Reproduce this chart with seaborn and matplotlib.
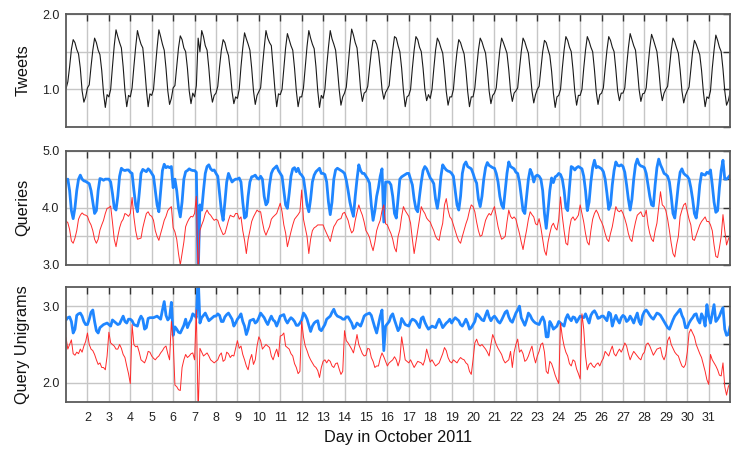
import numpy as np
import pandas as pd
import matplotlib
matplotlib.use("Agg")
import matplotlib.pyplot as plt
import seaborn as sns
from matplotlib.ticker import FixedLocator, MultipleLocator, FuncFormatter

# Values sampled every two hours, one row per day (October 1 .. 31),
# followed by the last value at the right edge of the chart.
tweets_rows = [
    [1.01, 1.10, 1.30, 1.53, 1.66, 1.62, 1.53, 1.47, 1.28, 0.98, 0.83, 0.90],
    [1.02, 1.06, 1.30, 1.52, 1.68, 1.62, 1.52, 1.46, 1.25, 0.95, 0.76, 0.93],
    [0.90, 1.00, 1.30, 1.58, 1.79, 1.70, 1.62, 1.55, 1.30, 0.98, 0.77, 0.92],
    [0.90, 1.02, 1.30, 1.56, 1.78, 1.68, 1.60, 1.55, 1.30, 1.00, 0.77, 0.94],
    [0.92, 1.00, 1.28, 1.55, 1.79, 1.70, 1.60, 1.52, 1.28, 0.98, 0.80, 0.88],
    [1.02, 1.05, 1.30, 1.55, 1.71, 1.66, 1.55, 1.50, 1.28, 0.98, 0.81, 0.95],
    [0.90, 1.05, 1.68, 1.50, 1.78, 1.70, 1.58, 1.52, 1.28, 0.98, 0.83, 0.92],
    [0.95, 1.04, 1.30, 1.52, 1.66, 1.62, 1.52, 1.45, 1.25, 0.97, 0.81, 0.90],
    [0.88, 1.00, 1.30, 1.55, 1.75, 1.67, 1.60, 1.52, 1.28, 0.98, 0.80, 0.92],
    [0.97, 1.02, 1.30, 1.55, 1.78, 1.68, 1.62, 1.58, 1.30, 1.00, 0.77, 0.94],
    [0.93, 1.00, 1.28, 1.55, 1.74, 1.66, 1.58, 1.52, 1.28, 0.98, 0.77, 0.90],
    [0.90, 1.02, 1.30, 1.57, 1.78, 1.68, 1.60, 1.54, 1.30, 0.98, 0.76, 0.92],
    [0.88, 1.00, 1.30, 1.56, 1.78, 1.67, 1.60, 1.52, 1.28, 1.00, 0.79, 0.90],
    [0.95, 1.03, 1.30, 1.58, 1.80, 1.72, 1.62, 1.55, 1.30, 1.00, 0.84, 0.95],
    [0.97, 1.04, 1.28, 1.50, 1.65, 1.65, 1.60, 1.50, 1.28, 1.00, 0.87, 0.96],
    [1.00, 1.05, 1.30, 1.52, 1.70, 1.68, 1.58, 1.50, 1.28, 0.98, 0.77, 0.90],
    [0.92, 1.00, 1.28, 1.52, 1.70, 1.66, 1.56, 1.50, 1.28, 1.00, 0.85, 0.93],
    [0.88, 1.00, 1.27, 1.52, 1.68, 1.63, 1.55, 1.48, 1.25, 0.97, 0.79, 0.90],
    [0.90, 1.00, 1.27, 1.50, 1.66, 1.62, 1.54, 1.47, 1.25, 0.97, 0.77, 0.90],
    [0.90, 1.02, 1.28, 1.52, 1.68, 1.63, 1.55, 1.48, 1.26, 0.98, 0.81, 0.92],
    [0.95, 1.02, 1.28, 1.52, 1.68, 1.62, 1.55, 1.48, 1.26, 0.98, 0.84, 0.95],
    [0.98, 1.02, 1.27, 1.50, 1.68, 1.63, 1.55, 1.48, 1.25, 0.98, 0.82, 0.93],
    [1.00, 1.04, 1.27, 1.50, 1.65, 1.62, 1.53, 1.45, 1.24, 0.95, 0.76, 0.90],
    [0.92, 1.00, 1.28, 1.52, 1.70, 1.65, 1.56, 1.50, 1.26, 0.97, 0.79, 0.92],
    [0.92, 1.00, 1.28, 1.52, 1.70, 1.64, 1.56, 1.50, 1.26, 0.97, 0.80, 0.93],
    [0.95, 1.02, 1.28, 1.52, 1.70, 1.65, 1.56, 1.50, 1.26, 0.98, 0.85, 0.95],
    [0.95, 1.02, 1.30, 1.55, 1.74, 1.66, 1.58, 1.52, 1.28, 1.00, 0.84, 0.94],
    [0.95, 1.02, 1.30, 1.55, 1.73, 1.66, 1.58, 1.50, 1.28, 1.00, 0.85, 0.95],
    [1.00, 1.04, 1.28, 1.52, 1.68, 1.63, 1.55, 1.48, 1.26, 0.98, 0.82, 0.92],
    [0.98, 1.03, 1.27, 1.50, 1.65, 1.60, 1.53, 1.46, 1.25, 0.97, 0.77, 0.90],
    [0.88, 0.98, 1.28, 1.52, 1.72, 1.65, 1.56, 1.50, 1.27, 0.98, 0.79, 0.85],
]
tweets_end = 0.96

queries_blue_rows = [
    [4.48, 4.50, 4.30, 3.95, 3.81, 4.00, 4.30, 4.50, 4.57, 4.50, 4.47, 4.46],
    [4.44, 4.42, 4.30, 4.10, 3.90, 3.95, 4.30, 4.51, 4.50, 4.48, 4.50, 4.50],
    [4.50, 4.45, 4.25, 4.00, 3.96, 4.20, 4.55, 4.69, 4.66, 4.65, 4.66, 4.66],
    [4.62, 4.60, 4.31, 4.05, 3.93, 4.25, 4.60, 4.67, 4.65, 4.63, 4.68, 4.65],
    [4.60, 4.55, 4.30, 4.05, 3.93, 4.30, 4.65, 4.76, 4.70, 4.72, 4.70, 4.72],
    [4.35, 4.50, 4.30, 4.00, 3.84, 4.10, 4.50, 4.63, 4.65, 4.68, 4.66, 4.65],
    [4.65, 4.62, 2.80, 4.05, 3.96, 4.30, 4.60, 4.72, 4.75, 4.68, 4.65, 4.66],
    [4.60, 4.55, 4.25, 3.95, 3.78, 4.10, 4.45, 4.60, 4.52, 4.45, 4.48, 4.50],
    [4.50, 4.52, 4.45, 4.10, 3.82, 3.85, 4.20, 4.45, 4.54, 4.55, 4.57, 4.52],
    [4.50, 4.55, 4.50, 4.20, 4.05, 4.10, 4.40, 4.60, 4.67, 4.70, 4.73, 4.65],
    [4.60, 4.55, 4.30, 4.05, 3.99, 4.25, 4.55, 4.68, 4.70, 4.63, 4.69, 4.60],
    [4.57, 4.52, 4.30, 4.05, 3.93, 4.15, 4.45, 4.57, 4.63, 4.66, 4.69, 4.60],
    [4.60, 4.58, 4.45, 4.10, 3.88, 4.10, 4.50, 4.66, 4.69, 4.67, 4.65, 4.63],
    [4.60, 4.48, 4.30, 4.10, 3.96, 3.85, 4.20, 4.50, 4.75, 4.65, 4.60, 4.60],
    [4.55, 4.50, 4.43, 4.05, 3.78, 3.95, 4.20, 4.35, 4.55, 4.68, 3.75, 4.45],
    [4.45, 4.45, 4.40, 4.20, 3.90, 3.82, 4.15, 4.50, 4.54, 4.56, 4.58, 4.60],
    [4.60, 4.50, 4.40, 4.15, 3.98, 3.93, 4.20, 4.45, 4.65, 4.72, 4.68, 4.60],
    [4.52, 4.48, 4.42, 4.15, 3.99, 4.20, 4.55, 4.75, 4.70, 4.66, 4.64, 4.63],
    [4.60, 4.55, 4.30, 4.05, 3.96, 4.20, 4.60, 4.75, 4.80, 4.72, 4.70, 4.68],
    [4.60, 4.50, 4.43, 4.15, 4.02, 4.20, 4.50, 4.70, 4.79, 4.74, 4.72, 4.70],
    [4.69, 4.60, 4.45, 4.20, 4.05, 3.99, 4.30, 4.60, 4.80, 4.72, 4.70, 4.68],
    [4.62, 4.60, 4.45, 4.20, 3.95, 3.90, 4.20, 4.50, 4.67, 4.60, 4.45, 4.55],
    [4.57, 4.55, 4.50, 4.30, 3.90, 3.64, 3.95, 4.30, 4.52, 4.44, 4.54, 4.56],
    [4.60, 4.58, 4.50, 4.30, 4.00, 3.95, 4.35, 4.72, 4.70, 4.66, 4.70, 4.72],
    [4.70, 4.68, 4.55, 4.30, 3.95, 4.10, 4.45, 4.70, 4.83, 4.70, 4.72, 4.70],
    [4.68, 4.63, 4.50, 4.25, 3.97, 4.05, 4.40, 4.65, 4.80, 4.74, 4.73, 4.75],
    [4.72, 4.62, 4.40, 4.15, 3.96, 4.15, 4.50, 4.75, 4.85, 4.76, 4.73, 4.72],
    [4.70, 4.60, 4.40, 4.20, 4.05, 4.03, 4.40, 4.70, 4.85, 4.75, 4.68, 4.60],
    [4.58, 4.55, 4.45, 4.20, 3.90, 3.82, 4.10, 4.40, 4.62, 4.68, 4.60, 4.57],
    [4.55, 4.50, 4.35, 4.15, 3.90, 3.82, 4.05, 4.40, 4.60, 4.58, 4.57, 4.62],
    [4.60, 4.66, 4.40, 4.10, 3.92, 3.95, 4.35, 4.65, 4.83, 4.50, 4.50, 4.53],
]
queries_blue_end = 4.57

queries_red_rows = [
    [3.77, 3.74, 3.62, 3.42, 3.38, 3.47, 3.60, 3.80, 3.87, 3.91, 3.88, 3.87],
    [3.85, 3.76, 3.70, 3.60, 3.45, 3.38, 3.45, 3.61, 3.70, 3.78, 3.90, 3.99],
    [4.00, 4.03, 3.75, 3.45, 3.32, 3.50, 3.65, 3.75, 3.80, 3.90, 3.88, 3.85],
    [3.90, 4.18, 3.84, 3.60, 3.45, 3.46, 3.47, 3.65, 3.78, 3.90, 3.93, 3.87],
    [3.85, 3.78, 3.60, 3.50, 3.43, 3.55, 3.66, 3.78, 3.85, 3.95, 3.99, 4.02],
    [3.65, 3.58, 3.45, 3.20, 3.00, 3.20, 3.40, 3.67, 3.75, 3.81, 3.85, 3.84],
    [3.90, 4.20, 2.80, 3.60, 3.70, 3.78, 3.90, 3.96, 3.90, 3.87, 3.82, 3.78],
    [3.80, 3.78, 3.68, 3.60, 3.53, 3.55, 3.66, 3.78, 3.87, 3.85, 3.84, 3.90],
    [3.90, 3.80, 3.84, 3.60, 3.43, 3.20, 3.45, 3.60, 3.76, 3.84, 3.90, 3.96],
    [3.93, 3.93, 3.75, 3.60, 3.52, 3.60, 3.67, 3.80, 3.84, 3.87, 3.90, 3.99],
    [4.08, 3.93, 3.70, 3.56, 3.32, 3.45, 3.58, 3.70, 3.80, 3.84, 3.88, 3.93],
    [4.31, 3.80, 3.65, 3.50, 3.20, 3.45, 3.60, 3.65, 3.67, 3.70, 3.70, 3.70],
    [3.70, 3.62, 3.55, 3.48, 3.41, 3.55, 3.67, 3.72, 3.78, 3.80, 3.81, 3.90],
    [3.92, 3.85, 3.78, 3.65, 3.56, 3.60, 3.78, 3.92, 4.05, 3.95, 3.87, 3.75],
    [3.60, 3.55, 3.48, 3.35, 3.25, 3.40, 3.60, 3.70, 3.78, 3.95, 4.05, 3.72],
    [3.70, 3.62, 3.55, 3.45, 3.30, 3.23, 3.50, 3.62, 3.85, 4.02, 3.95, 3.90],
    [3.85, 3.73, 3.45, 3.20, 3.40, 3.61, 3.80, 4.02, 3.95, 3.90, 3.82, 3.78],
    [3.75, 3.67, 3.60, 3.50, 3.45, 3.43, 3.60, 3.73, 4.05, 4.16, 3.96, 3.84],
    [3.80, 3.70, 3.60, 3.50, 3.42, 3.38, 3.50, 3.61, 3.72, 3.81, 3.95, 4.05],
    [4.02, 3.93, 3.75, 3.60, 3.50, 3.52, 3.65, 3.78, 3.85, 3.90, 3.87, 3.95],
    [4.02, 3.85, 3.67, 3.55, 3.45, 3.47, 3.50, 3.75, 3.96, 3.85, 3.81, 3.84],
    [3.80, 3.67, 3.55, 3.40, 3.27, 3.45, 3.61, 3.80, 3.93, 3.88, 3.84, 3.72],
    [3.70, 3.81, 3.65, 3.45, 3.25, 3.17, 3.40, 3.55, 3.68, 3.73, 3.65, 3.61],
    [3.80, 4.19, 3.85, 3.60, 3.38, 3.35, 3.64, 3.80, 3.84, 3.78, 3.82, 3.87],
    [4.05, 3.90, 3.75, 3.55, 3.40, 3.35, 3.60, 3.80, 3.90, 3.96, 3.90, 3.81],
    [3.75, 3.67, 3.55, 3.45, 3.41, 3.55, 3.67, 3.85, 4.02, 3.95, 3.93, 3.96],
    [3.90, 3.81, 3.70, 3.55, 3.45, 3.41, 3.60, 3.75, 3.87, 3.90, 3.93, 3.85],
    [3.85, 3.96, 3.70, 3.55, 3.45, 3.41, 3.60, 3.73, 4.00, 4.28, 4.05, 4.02],
    [3.95, 3.80, 3.60, 3.38, 3.20, 3.14, 3.35, 3.50, 3.85, 3.96, 4.05, 4.08],
    [3.93, 3.80, 3.70, 3.45, 3.43, 3.52, 3.61, 3.70, 3.76, 3.80, 3.84, 3.76],
    [3.76, 3.70, 3.60, 3.35, 3.15, 3.13, 3.30, 3.50, 3.88, 3.60, 3.35, 3.45],
]
queries_red_end = 3.52

unigrams_blue_rows = [
    [2.82, 2.85, 2.86, 2.80, 2.65, 2.70, 2.88, 2.90, 2.91, 2.87, 2.80, 2.76],
    [2.76, 2.83, 2.92, 2.95, 2.80, 2.68, 2.65, 2.72, 2.74, 2.76, 2.77, 2.78],
    [2.76, 2.74, 2.82, 2.80, 2.78, 2.76, 2.77, 2.82, 2.87, 2.80, 2.78, 2.83],
    [2.83, 2.81, 2.76, 2.75, 2.74, 2.82, 2.87, 2.83, 2.70, 2.72, 2.84, 2.85],
    [2.85, 2.85, 2.86, 2.87, 2.85, 2.83, 2.95, 3.06, 2.88, 2.82, 2.85, 3.05],
    [2.62, 2.73, 2.70, 2.66, 2.65, 2.70, 2.75, 2.83, 2.72, 2.78, 2.82, 2.90],
    [2.88, 2.85, 3.40, 2.78, 2.85, 2.88, 2.91, 2.86, 2.81, 2.83, 2.85, 2.87],
    [2.87, 2.90, 2.88, 2.80, 2.80, 2.86, 2.89, 2.91, 2.87, 2.83, 2.74, 2.78],
    [2.83, 2.86, 2.90, 2.80, 2.74, 2.63, 2.70, 2.81, 2.82, 2.83, 2.78, 2.80],
    [2.85, 2.91, 2.88, 2.85, 2.80, 2.76, 2.82, 2.87, 2.82, 2.80, 2.74, 2.80],
    [2.87, 2.88, 2.89, 2.82, 2.78, 2.82, 2.85, 2.83, 2.80, 2.75, 2.75, 2.78],
    [2.82, 2.91, 2.88, 2.83, 2.75, 2.67, 2.74, 2.78, 2.80, 2.81, 2.70, 2.68],
    [2.72, 2.76, 2.83, 2.85, 2.87, 2.92, 2.96, 2.90, 2.87, 2.86, 2.85, 2.83],
    [2.83, 2.86, 2.86, 2.82, 2.78, 2.71, 2.73, 2.78, 2.76, 2.74, 2.80, 2.87],
    [2.89, 2.90, 2.91, 2.88, 2.80, 2.72, 2.65, 2.76, 2.87, 2.95, 2.42, 2.74],
    [2.77, 2.80, 2.87, 2.90, 2.82, 2.75, 2.68, 2.72, 2.84, 2.80, 2.76, 2.75],
    [2.74, 2.80, 2.83, 2.82, 2.80, 2.76, 2.72, 2.84, 2.86, 2.79, 2.74, 2.70],
    [2.72, 2.74, 2.73, 2.72, 2.78, 2.83, 2.78, 2.72, 2.75, 2.78, 2.80, 2.83],
    [2.78, 2.82, 2.85, 2.83, 2.81, 2.76, 2.74, 2.78, 2.83, 2.78, 2.70, 2.72],
    [2.76, 2.80, 2.90, 2.88, 2.85, 2.82, 2.81, 2.88, 2.94, 2.86, 2.81, 2.85],
    [2.87, 2.84, 2.80, 2.78, 2.82, 2.87, 2.92, 2.94, 2.86, 2.81, 2.79, 2.85],
    [2.91, 2.95, 3.00, 2.85, 2.80, 2.75, 2.82, 2.91, 2.88, 2.83, 2.80, 2.78],
    [2.77, 2.76, 2.82, 2.86, 2.80, 2.60, 2.60, 2.80, 2.76, 2.70, 2.72, 2.74],
    [2.80, 2.78, 2.76, 2.74, 2.84, 2.89, 2.84, 2.81, 2.86, 2.85, 2.79, 2.83],
    [2.87, 2.86, 2.85, 2.90, 2.84, 2.78, 2.88, 2.92, 2.94, 2.90, 2.84, 2.85],
    [2.87, 2.87, 2.84, 2.81, 2.92, 2.90, 2.74, 2.82, 2.88, 2.82, 2.78, 2.85],
    [2.88, 2.86, 2.80, 2.82, 2.87, 2.83, 2.78, 2.85, 2.91, 2.80, 2.76, 2.88],
    [2.93, 2.95, 2.92, 2.88, 2.85, 2.83, 2.87, 2.91, 2.90, 2.88, 2.84, 2.80],
    [2.76, 2.72, 2.70, 2.76, 2.82, 2.87, 2.90, 2.93, 2.96, 2.88, 2.83, 2.72],
    [2.72, 2.78, 2.82, 2.85, 2.89, 2.90, 2.82, 2.78, 2.90, 2.85, 2.74, 3.02],
    [2.87, 2.78, 2.90, 3.02, 2.80, 2.83, 2.87, 2.93, 2.98, 2.70, 2.62, 2.63],
]
unigrams_blue_end = 2.74

unigrams_red_rows = [
    [2.59, 2.44, 2.50, 2.56, 2.38, 2.36, 2.40, 2.38, 2.44, 2.40, 2.48, 2.54],
    [2.65, 2.50, 2.44, 2.42, 2.37, 2.30, 2.24, 2.26, 2.20, 2.20, 2.17, 2.35],
    [2.66, 2.52, 2.50, 2.48, 2.44, 2.44, 2.50, 2.45, 2.37, 2.33, 2.22, 2.12],
    [1.99, 2.76, 2.50, 2.47, 2.48, 2.40, 2.30, 2.28, 2.26, 2.32, 2.41, 2.40],
    [2.35, 2.32, 2.30, 2.33, 2.35, 2.39, 2.42, 2.46, 2.48, 2.38, 2.30, 2.80],
    [2.55, 1.97, 1.95, 1.91, 1.90, 2.20, 2.30, 2.37, 2.33, 2.35, 2.38, 2.39],
    [2.30, 2.95, 1.60, 2.45, 2.40, 2.35, 2.37, 2.39, 2.35, 2.30, 2.28, 2.26],
    [2.28, 2.30, 2.36, 2.39, 2.28, 2.30, 2.40, 2.38, 2.33, 2.36, 2.35, 2.45],
    [2.55, 2.45, 2.48, 2.37, 2.30, 2.22, 2.17, 2.30, 2.37, 2.24, 2.30, 2.48],
    [2.60, 2.55, 2.44, 2.47, 2.50, 2.48, 2.46, 2.35, 2.30, 2.38, 2.44, 2.34],
    [2.61, 2.62, 2.65, 2.48, 2.46, 2.44, 2.38, 2.35, 2.25, 2.20, 2.12, 2.15],
    [2.80, 2.60, 2.48, 2.42, 2.35, 2.30, 2.26, 2.22, 2.20, 2.16, 2.07, 2.20],
    [2.28, 2.30, 2.26, 2.30, 2.28, 2.22, 2.20, 2.25, 2.26, 2.18, 2.11, 2.15],
    [2.68, 2.55, 2.52, 2.48, 2.44, 2.39, 2.50, 2.63, 2.50, 2.44, 2.38, 2.35],
    [2.36, 2.45, 2.44, 2.33, 2.28, 2.20, 2.22, 2.22, 2.32, 2.39, 2.34, 2.28],
    [2.22, 2.26, 2.28, 2.30, 2.34, 2.30, 2.22, 2.30, 2.60, 2.45, 2.30, 2.28],
    [2.26, 2.30, 2.25, 2.20, 2.24, 2.28, 2.27, 2.26, 2.23, 2.30, 2.44, 2.35],
    [2.27, 2.30, 2.26, 2.22, 2.24, 2.26, 2.32, 2.38, 2.46, 2.42, 2.33, 2.28],
    [2.26, 2.30, 2.28, 2.26, 2.30, 2.33, 2.31, 2.30, 2.26, 2.24, 2.15, 2.11],
    [2.30, 2.52, 2.57, 2.50, 2.48, 2.50, 2.47, 2.44, 2.40, 2.35, 2.50, 2.63],
    [2.57, 2.50, 2.45, 2.41, 2.37, 2.30, 2.26, 2.28, 2.30, 2.41, 2.20, 2.40],
    [2.50, 2.57, 2.40, 2.43, 2.38, 2.28, 2.30, 2.35, 2.42, 2.48, 2.35, 2.26],
    [2.35, 2.41, 2.50, 2.52, 2.40, 2.15, 2.12, 2.28, 2.25, 2.18, 2.10, 2.04],
    [1.99, 2.78, 2.60, 2.48, 2.40, 2.35, 2.25, 2.22, 2.30, 2.28, 2.18, 2.12],
    [2.05, 2.90, 2.70, 2.35, 2.17, 2.24, 2.26, 2.22, 2.20, 2.24, 2.26, 2.22],
    [2.28, 2.32, 2.41, 2.38, 2.35, 2.42, 2.48, 2.38, 2.35, 2.40, 2.44, 2.40],
    [2.45, 2.52, 2.48, 2.38, 2.30, 2.36, 2.41, 2.38, 2.35, 2.32, 2.30, 2.37],
    [2.40, 2.50, 2.52, 2.48, 2.42, 2.36, 2.40, 2.44, 2.45, 2.46, 2.35, 2.30],
    [2.37, 2.55, 2.60, 2.50, 2.45, 2.40, 2.37, 2.35, 2.28, 2.22, 2.20, 2.24],
    [2.40, 2.65, 2.70, 2.65, 2.60, 2.50, 2.44, 2.38, 2.33, 2.24, 2.15, 2.04],
    [1.98, 2.37, 2.30, 2.26, 2.22, 2.17, 2.10, 2.09, 2.26, 1.95, 1.84, 1.95],
]
unigrams_red_end = 2.00

SAMPLES_PER_DAY = 12
day_ticks = list(range(2, 32))

BLUE = "#1f86ff"
RED = "#ff2a2a"


def flatten(rows, last):
    return [v for row in rows for v in row] + [last]


df = pd.DataFrame({
    "tweets": flatten(tweets_rows, tweets_end),
    "q_blue": flatten(queries_blue_rows, queries_blue_end),
    "q_red": flatten(queries_red_rows, queries_red_end),
    "u_blue": flatten(unigrams_blue_rows, unigrams_blue_end),
    "u_red": flatten(unigrams_red_rows, unigrams_red_end),
})
df["day"] = 1 + np.arange(len(df)) / SAMPLES_PER_DAY

sns.set_theme(style="white")
plt.rcParams["font.family"] = ["Liberation Sans", "DejaVu Sans"]

fig = plt.figure(figsize=(7.47, 4.49), dpi=100)
left, width = 0.0884, 0.889
boxes = [(0.7171, 0.2517), (0.4098, 0.2550), (0.1047, 0.2561)]
axes = [fig.add_axes([left, b, width, h]) for b, h in boxes]


def label_whole(v, pos):
    return f"{v:.1f}" if abs(v - round(v)) < 1e-6 else ""


panels = [
    ("Tweets", (0.5, 2.0), [("tweets", "#1a1a1a", 0.8)]),
    ("Queries", (3.0, 5.0), [("q_blue", BLUE, 2.0), ("q_red", RED, 0.7)]),
    ("Query Unigrams", (1.75, 3.25), [("u_blue", BLUE, 2.0), ("u_red", RED, 0.7)]),
]

for ax, (name, ylim, series) in zip(axes, panels):
    for col, color, lw in series:
        sns.lineplot(data=df, x="day", y=col, ax=ax, color=color, linewidth=lw,
                     estimator=None, errorbar=None, sort=False)
    ax.set_xlim(1, 32)
    ax.set_ylim(*ylim)
    ax.xaxis.set_major_locator(FixedLocator(day_ticks))
    ax.yaxis.set_major_locator(MultipleLocator(0.5))
    ax.yaxis.set_major_formatter(FuncFormatter(label_whole))
    ax.grid(True, color="#c6c6c6", linewidth=1.0)
    ax.set_axisbelow(True)
    ax.tick_params(direction="in", top=True, right=True, length=5, width=1.0,
                   color="#333333", labelsize=9, labelcolor="#222222", pad=4.8)
    for s in ax.spines.values():
        s.set_color("#5a5a5a")
        s.set_linewidth(1.3)
    ax.set_ylabel(name, fontsize=11.7, color="#111111")
    ax.yaxis.set_label_coords(-0.054, 0.5)
    ax.set_xlabel("")

for ax in axes[:2]:
    ax.tick_params(labelbottom=False)

axes[2].tick_params(axis="x", pad=7)
axes[2].set_xlabel("Day in October 2011", fontsize=11.7, color="#111111")
axes[2].xaxis.set_label_coords(0.5, -0.24)

fig.savefig("out.png", dpi=100)
